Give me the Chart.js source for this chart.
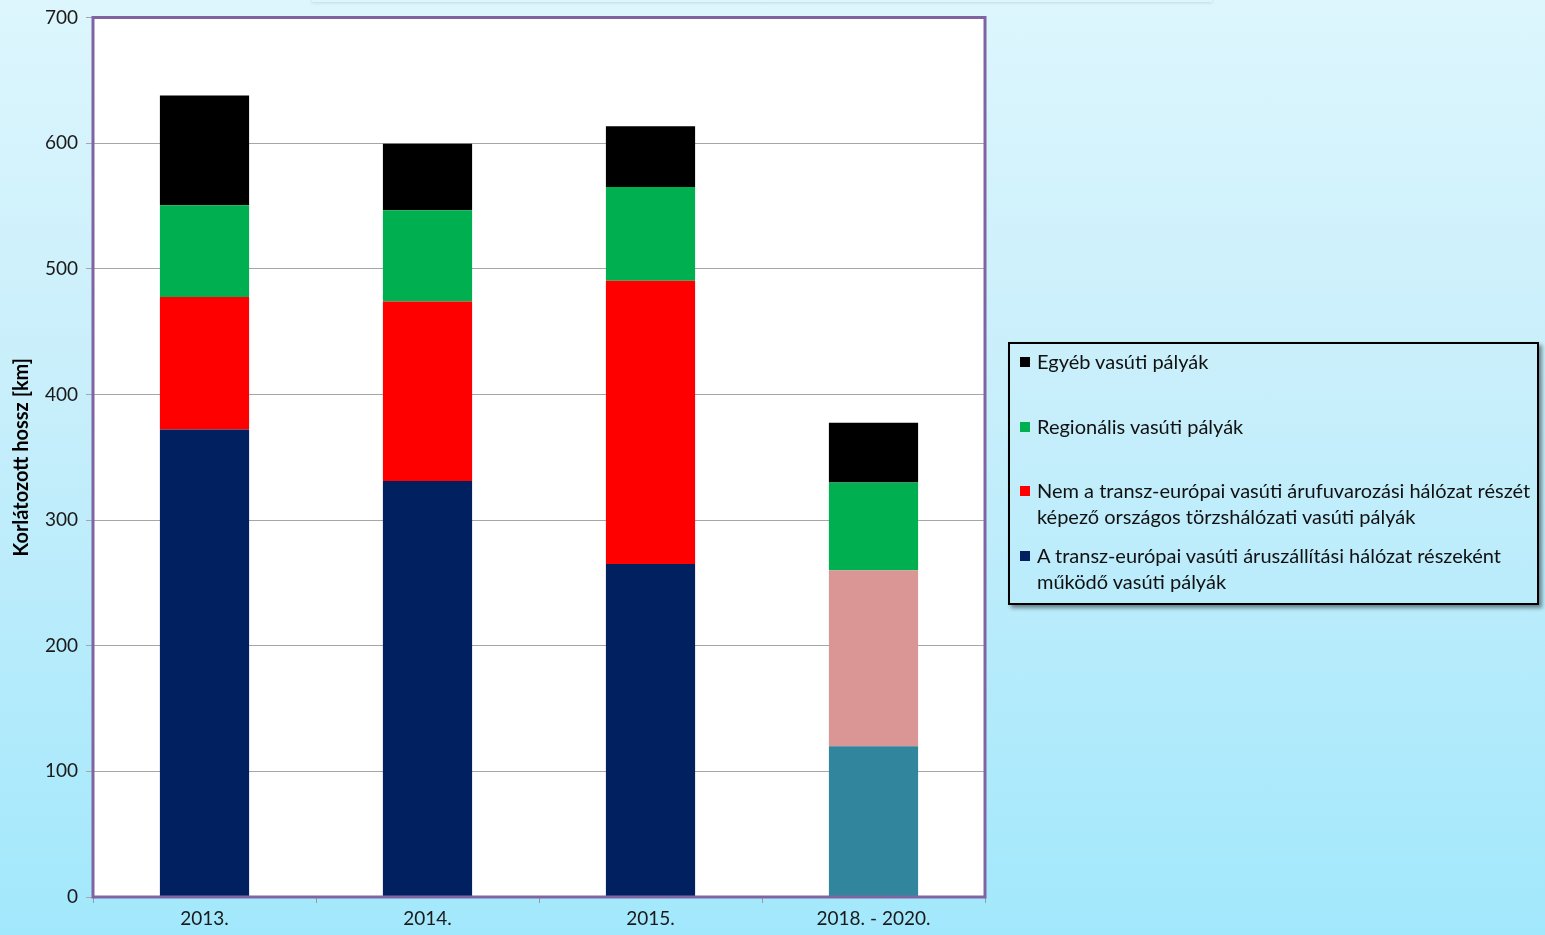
<!DOCTYPE html>
<html>
<head>
<meta charset="utf-8">
<script src="https://cdn.jsdelivr.net/npm/chart.js@4.4.1/dist/chart.umd.min.js"></script>
<style>
  html, body { margin: 0; padding: 0; }
  body {
    width: 1545px; height: 935px; overflow: hidden; position: relative;
    background: linear-gradient(to bottom, #ddf6fd 0%, #c6eefb 45%, #a2e8fc 100%);
    font-family: Lato, "Open Sans", sans-serif;
  }
  #wrap { position: absolute; left: 0; top: 0; width: 1545px; height: 935px; }
  #topbox {
    position: absolute; left: 312px; top: -30px; width: 900px; height: 32px;
    box-shadow: 0 1px 3px rgba(0,0,0,0.12);
  }
  #legend {
    position: absolute; left: 1008px; top: 342px; width: 527px; height: 255px;
    border: 2px solid #000; box-shadow: 3px 3px 4px rgba(0,0,0,0.45);
    padding-top: 4px; box-sizing: content-box;
  }
  .item { position: relative; height: 64.5px; }
  .sw { position: absolute; left: 10px; top: 9px; width: 10px; height: 10px; }
  .txt { position: absolute; left: 27px; top: 0; font-size: 20px; line-height: 26px;
         color: #111; white-space: pre; }
</style>
</head>
<body>
<div id="topbox"></div>
<div id="wrap"><canvas id="myChart" width="1545" height="935"></canvas></div>
<div id="legend"></div>
<script>
// categories and values (km)
const categories = ['2013.', '2014.', '2015.', '2018. - 2020.'];
const transEuropai = [372, 331, 265, 120];
const nemTransEuropai = [105.5, 143, 225.5, 140];
const regionalis = [73, 72.5, 74.5, 70];
const egyeb = [87.5, 53, 48.5, 47.5];
const yTicks = [0, 100, 200, 300, 400, 500, 600, 700];

const labels = [
  'A transz-európai vasúti áruszállítási hálózat részeként\nműködő vasúti pályák',
  'Nem a transz-európai vasúti árufuvarozási hálózat részét\nképező országos törzshálózati vasúti pályák',
  'Regionális vasúti pályák',
  'Egyéb vasúti pályák'
];

const fontName = 'Lato, "Open Sans", sans-serif';

const plotBg = {
  id: 'plotBg',
  beforeDraw(chart) {
    const a = chart.chartArea, ctx = chart.ctx;
    ctx.save();
    ctx.fillStyle = '#ffffff';
    ctx.fillRect(a.left, a.top, a.right - a.left, a.bottom - a.top);
    ctx.restore();
  },
  afterDatasetsDraw(chart) {
    const a = chart.chartArea, ctx = chart.ctx;
    ctx.save();
    ctx.strokeStyle = '#8064a2';
    ctx.lineWidth = 3;
    ctx.strokeRect(a.left, a.top, a.right - a.left, a.bottom - a.top);
    ctx.restore();
  }
};

const ctx = document.getElementById('myChart');
const myChart = new Chart(ctx, {
  type: 'bar',
  data: {
    labels: categories,
    datasets: [
      { label: labels[0], data: transEuropai, backgroundColor: ['#002060', '#002060', '#002060', '#31859c'], legendColor: '#002060' },
      { label: labels[1], data: nemTransEuropai, backgroundColor: ['#ff0000', '#ff0000', '#ff0000', '#d99694'], legendColor: '#ff0000' },
      { label: labels[2], data: regionalis, backgroundColor: '#00b050', legendColor: '#00b050' },
      { label: labels[3], data: egyeb, backgroundColor: '#000000', legendColor: '#000000' }
    ]
  },
  options: {
    responsive: false,
    animation: false,
    layout: { padding: { top: 16, right: 560, bottom: 0, left: 0 } },
    datasets: { bar: { barPercentage: 0.4, categoryPercentage: 1 } },
    plugins: { legend: { display: false }, tooltip: { enabled: false } },
    scales: {
      x: {
        stacked: true,
        border: { display: false },
        grid: { drawOnChartArea: false, offset: true, color: '#9a9a9a', tickLength: 6 },
        ticks: { color: '#1a1a1a', font: { family: fontName, size: 19 }, padding: 4 },
        afterFit(s) { s.height = 38; }
      },
      y: {
        stacked: true,
        min: 0, max: 700,
        afterBuildTicks(s) { s.ticks = yTicks.map(v => ({ value: v })); },
        border: { display: false },
        grid: { color: '#a6a6a6', tickLength: 7 },
        ticks: { color: '#1a1a1a', font: { family: fontName, size: 19, lineHeight: 1 }, padding: 8 },
        title: {
          display: true, text: 'Korlátozott hossz [km]', color: '#000',
          font: { family: fontName, size: 20, weight: 'bold' },
          padding: { top: 10, bottom: 0 }
        },
        afterFit(s) { s.width = 93; }
      }
    }
  },
  plugins: [plotBg]
});

// legend box, series listed top-down in reverse stacking order
const legendEl = document.getElementById('legend');
myChart.data.datasets.slice().reverse().forEach(ds => {
  const item = document.createElement('div');
  item.className = 'item';
  const sw = document.createElement('div');
  sw.className = 'sw';
  sw.style.background = ds.legendColor;
  const txt = document.createElement('div');
  txt.className = 'txt';
  txt.textContent = ds.label;
  item.appendChild(sw);
  item.appendChild(txt);
  legendEl.appendChild(item);
});
</script>
</body>
</html>
